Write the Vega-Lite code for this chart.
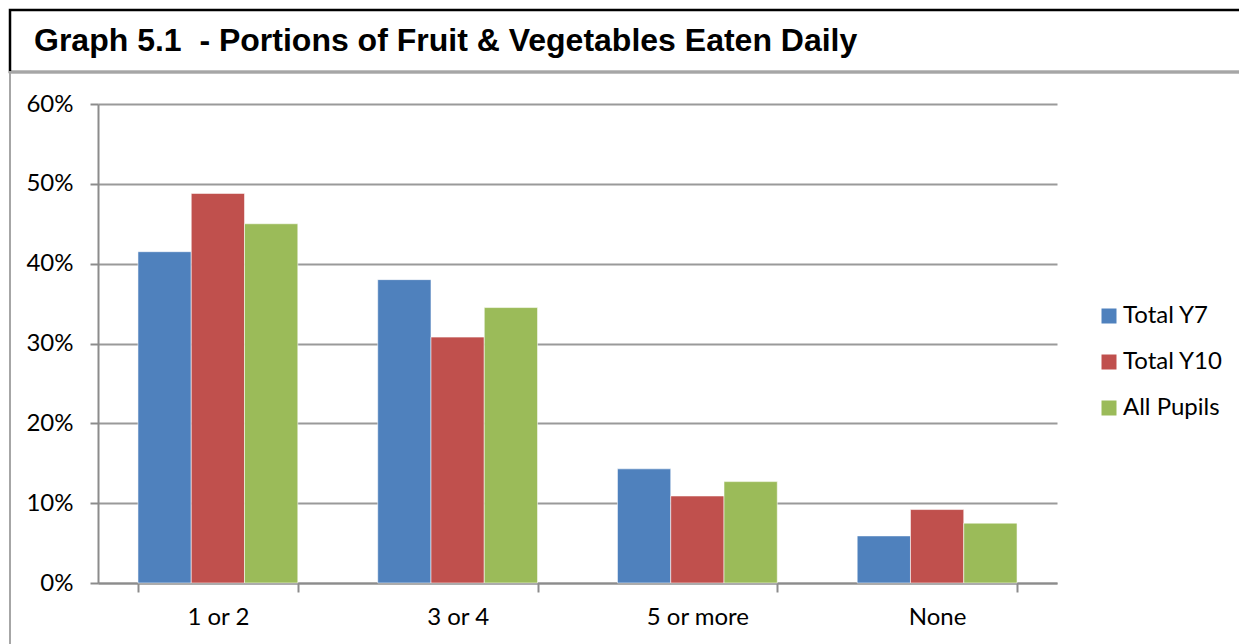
{
  "$schema": "https://vega.github.io/schema/vega-lite/v6.json",
  "padding": {"left": 8, "top": 8, "right": 0, "bottom": 0},
  "background": "white",
  "spacing": 0,
  "bounds": "flush",
  "config": {
    "font": "Lato"
  },
  "datasets": {
    "bars": [
      {"portions": "1 or 2", "group": "Total Y7", "percent": 41.5},
      {"portions": "1 or 2", "group": "Total Y10", "percent": 48.8},
      {"portions": "1 or 2", "group": "All Pupils", "percent": 45.0},
      {"portions": "3 or 4", "group": "Total Y7", "percent": 38.0},
      {"portions": "3 or 4", "group": "Total Y10", "percent": 30.8},
      {"portions": "3 or 4", "group": "All Pupils", "percent": 34.5},
      {"portions": "5 or more", "group": "Total Y7", "percent": 14.3},
      {"portions": "5 or more", "group": "Total Y10", "percent": 10.9},
      {"portions": "5 or more", "group": "All Pupils", "percent": 12.7},
      {"portions": "None", "group": "Total Y7", "percent": 5.9},
      {"portions": "None", "group": "Total Y10", "percent": 9.2},
      {"portions": "None", "group": "All Pupils", "percent": 7.5}
    ]
  },
  "vconcat": [
    {
      "width": 1240,
      "height": 62,
      "view": {"stroke": "black", "strokeWidth": 2.5},
      "title": {
        "text": "Graph 5.1\u00a0 - Portions of Fruit & Vegetables Eaten Daily",
        "orient": "top",
        "anchor": "start",
        "frame": "group",
        "font": "Liberation Sans",
        "fontSize": 32,
        "fontWeight": "bold",
        "color": "black",
        "baseline": "alphabetic",
        "offset": -73,
        "dx": 24
      },
      "data": {"values": [{"k": 1}]},
      "mark": {"type": "point", "opacity": 0},
      "encoding": {}
    },
    {
      "width": 1240,
      "height": 600,
      "view": {"stroke": "#a6a6a6", "strokeWidth": 2},
      "data": {"name": "bars"},
      "mark": {"type": "bar", "stroke": "white", "strokeWidth": 0.8, "strokeOpacity": 0.7},
      "encoding": {
        "x": {
          "field": "portions",
          "type": "nominal",
          "sort": ["1 or 2", "3 or 4", "5 or more", "None"],
          "scale": {"range": [88, 1047], "paddingInner": 0.3333, "paddingOuter": 0.1667},
          "axis": {
            "title": null,
            "offset": -89,
            "labelAngle": 0,
            "tickBand": "extent",
            "domainColor": "#8c8c8c",
            "domainWidth": 2,
            "tickColor": "#8c8c8c",
            "tickWidth": 2,
            "tickSize": 9,
            "labelFontSize": 24,
            "labelColor": "black",
            "labelPadding": 13
          }
        },
        "xOffset": {
          "field": "group",
          "type": "nominal",
          "sort": ["Total Y7", "Total Y10", "All Pupils"],
          "scale": {"paddingInner": 0, "paddingOuter": 0}
        },
        "y": {
          "field": "percent",
          "type": "quantitative",
          "scale": {"domain": [0, 60], "range": [511, 32], "nice": false},
          "axis": {
            "title": null,
            "offset": -88,
            "values": [0, 10, 20, 30, 40, 50, 60],
            "labelExpr": "datum.value + '%'",
            "grid": true,
            "gridColor": "#9a9a9a",
            "gridWidth": 2,
            "domainColor": "#8c8c8c",
            "domainWidth": 2,
            "tickColor": "#8c8c8c",
            "tickWidth": 2,
            "tickSize": 8,
            "labelFontSize": 24,
            "labelColor": "black",
            "labelPadding": 17
          }
        },
        "color": {
          "field": "group",
          "type": "nominal",
          "sort": ["Total Y7", "Total Y10", "All Pupils"],
          "scale": {
            "domain": ["Total Y7", "Total Y10", "All Pupils"],
            "range": ["#4F81BD", "#C0504D", "#9BBB59"]
          },
          "legend": {
            "title": null,
            "orient": "none",
            "legendX": 1087,
            "legendY": 294,
            "symbolType": "square",
            "symbolSize": 225,
            "symbolStrokeWidth": 0,
            "labelFontSize": 24,
            "labelColor": "black",
            "labelOffset": 2,
            "rowPadding": 22
          }
        }
      }
    }
  ]
}
